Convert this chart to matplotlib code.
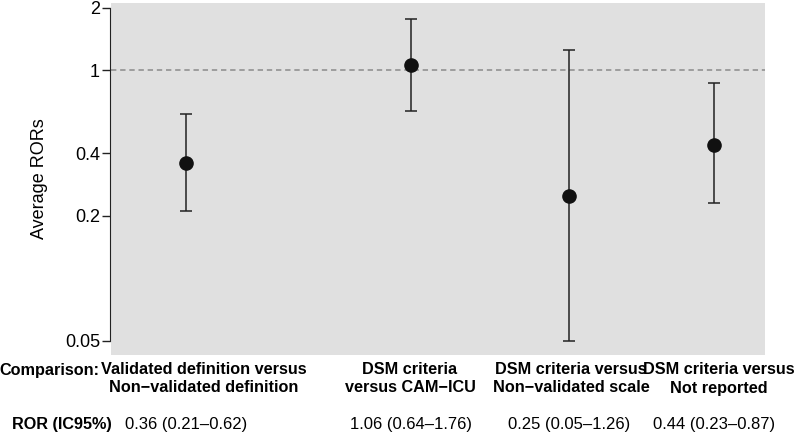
import matplotlib.pyplot as plt

plt.rcParams['font.family'] = ['Liberation Sans', 'DejaVu Sans']

# data
comparisons = ["Validated definition versus\nNon\u2212validated definition",
               "DSM criteria\nversus CAM\u2212ICU",
               "DSM criteria versus\nNon\u2212validated scale",
               "DSM criteria versus\nNot reported"]
ror = [0.36, 1.06, 0.25, 0.44]
lower = [0.21, 0.64, 0.05, 0.23]
upper = [0.62, 1.76, 1.26, 0.87]
yticks = [0.05, 0.2, 0.4, 1, 2]
ytick_labels = ["0.05", "0.2", "0.4", "1", "2"]

# layout (x positions in axes fraction)
xpos = [0.115, 0.459, 0.700, 0.922]

fig = plt.figure(figsize=(7.97, 4.33), dpi=100)
ax = fig.add_axes([111/797, 1 - 355/433, 654/797, 352/433])
ax.set_facecolor("#e0e0e0")
ax.set_yscale("log")
ax.set_xlim(0, 1)
ax.set_ylim(0.0428, 2.11)

ax.axhline(1, color="#8a8a8a", lw=1.1, ls=(0, (3.5, 2.5)), zorder=1)

yerr = [[r - l for r, l in zip(ror, lower)], [u - r for r, u in zip(ror, upper)]]
ax.errorbar(xpos, ror, yerr=yerr, fmt="o", color="#111111", ecolor="#222222",
            markersize=9.5, elinewidth=1.1, capsize=4, capthick=1.1, zorder=3)

for s in ["top", "right", "bottom"]:
    ax.spines[s].set_visible(False)
ax.spines["left"].set_position(("outward", 1))
ax.spines["left"].set_bounds(0.05, 2)
ax.spines["left"].set_color("#222222")
ax.set_yticks(yticks)
ax.set_yticklabels(ytick_labels, fontsize=13)
ax.minorticks_off()
ax.tick_params(axis="y", length=6, width=1, color="#222222", pad=1)
ax.set_xticks([])
ax.set_ylabel("Average RORs", fontsize=13, labelpad=12)

# table below the plot
fig.text(99/797, 1 - 370/433, "Comparison:", ha="right", va="center",
         fontsize=11.7, fontweight="bold")
fig.text(112/797, 1 - 425/433, "ROR (IC95%)", ha="right", va="center",
         fontsize=11.7, fontweight="bold")
label_x = [204, 410, 571, 719]
for i in range(len(comparisons)):
    fig.text(label_x[i]/797, 1 - 379/433, comparisons[i], ha="center", va="center",
             fontsize=11.7, fontweight="bold", linespacing=1.25)
    txt = "%.2f (%.2f\u2013%.2f)" % (ror[i], lower[i], upper[i])
    fig.text((111 + xpos[i]*654)/797, 1 - 425/433, txt, ha="center", va="center",
             fontsize=12)

fig.savefig("out.png", dpi=100)
